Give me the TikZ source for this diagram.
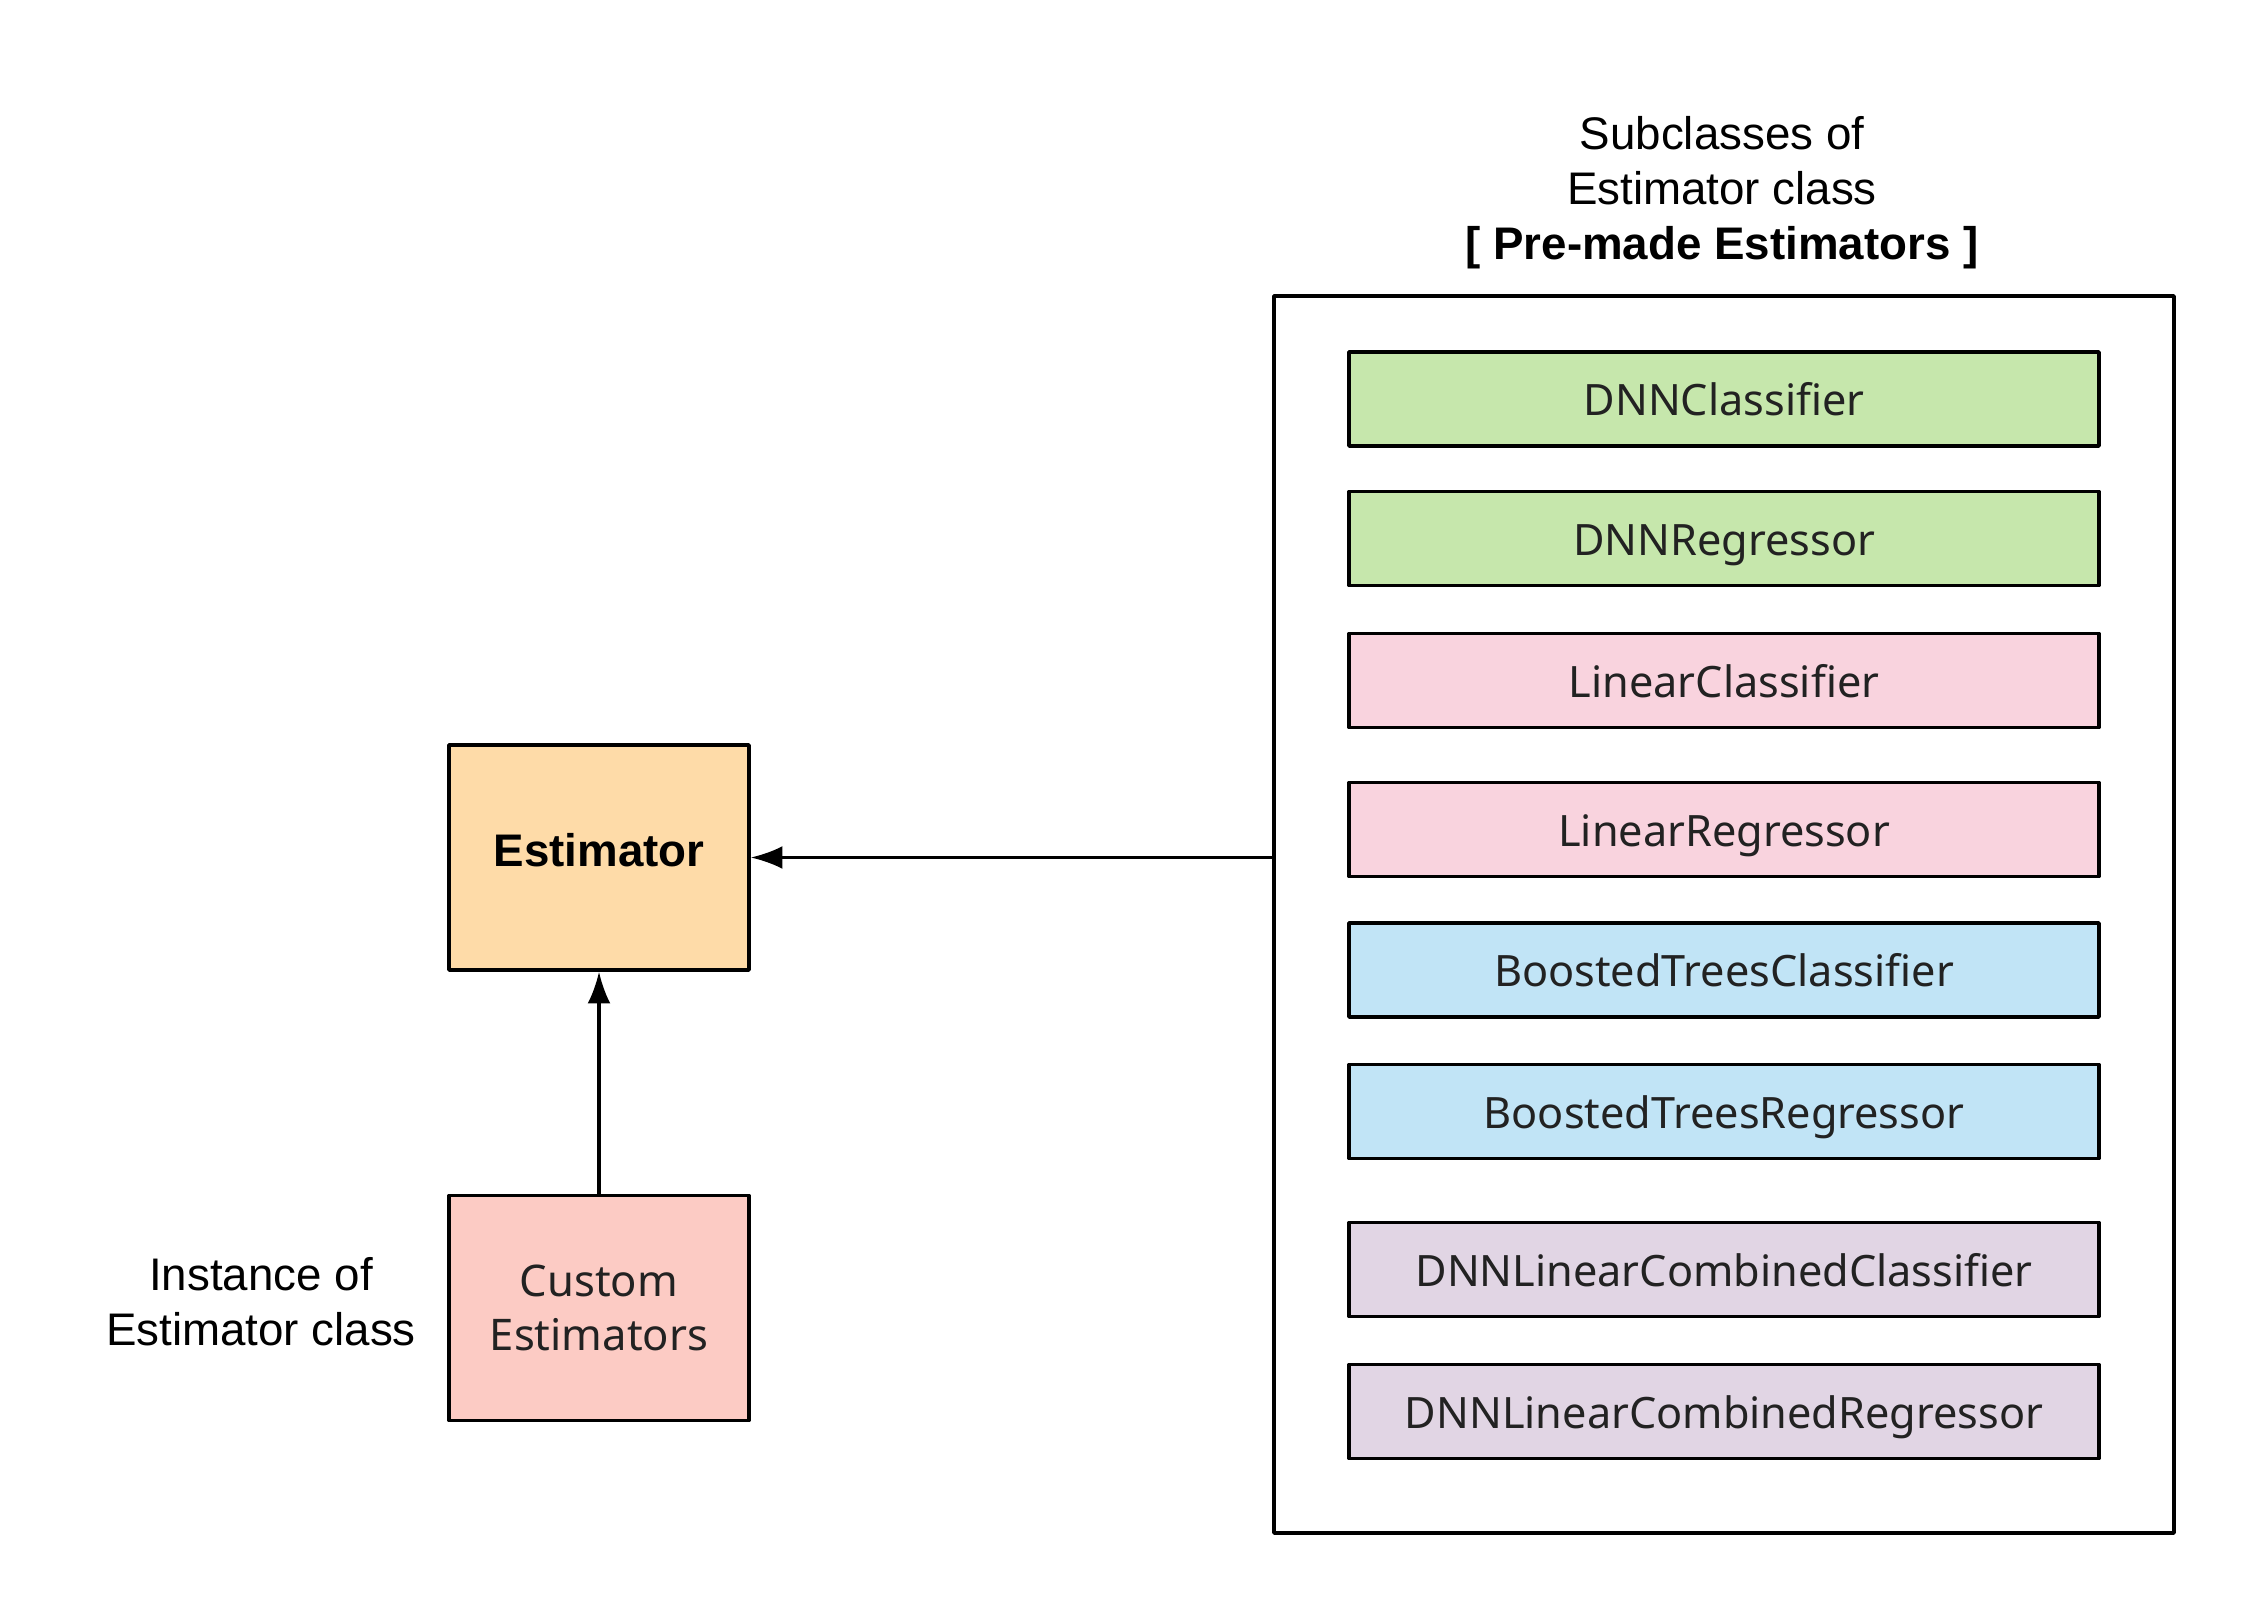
\documentclass[tikz,border=0pt]{standalone}
\usepackage{fontspec}
\setmainfont{Liberation Sans}
\newfontfamily\boxfont{Noto Sans}
\usetikzlibrary{arrows.meta}
\definecolor{dnngreen}{RGB}{198,231,172}
\definecolor{linpink}{RGB}{249,211,222}
\definecolor{treeblue}{RGB}{193,228,246}
\definecolor{combpurple}{RGB}{225,213,228}
\definecolor{estorange}{RGB}{254,219,168}
\definecolor{custpink}{RGB}{252,203,196}
\definecolor{boxtext}{RGB}{34,34,34}
\tikzset{
  subbox/.style={draw, line width=1pt, minimum width=7.5cm, minimum height=0.94cm, inner sep=0pt,
    text height=0.95em, text depth=0pt, text=boxtext, font=\boxfont\fontsize{12.3}{15}\selectfont},
  classbox/.style={draw, line width=1pt, minimum width=3cm, minimum height=2.25cm, inner sep=0pt, align=center},
  plain/.style={align=center, font=\fontsize{13}{15.6}\selectfont}
}
\begin{document}
\begin{tikzpicture}[x=1cm, y=-1cm, line join=round, >={Latex[length=9pt,width=6.5pt]}]
\useasboundingbox (0,0) rectangle (22.5,16.09);
% heading and outer frame
\node[plain] (head) at (17.22,1.93) {Subclasses of\\Estimator class\\\textbf{[ Pre-made Estimators ]}};
\node[draw, line width=1pt, minimum width=9cm, minimum height=12.37cm, inner sep=0pt] (premade) at (17.24,9.145) {};
\foreach \y/\n/\c/\t in {3.99/dnnc/dnngreen/DNNClassifier, 5.385/dnnr/dnngreen/DNNRegressor,
    6.805/linc/linpink/LinearClassifier, 8.295/linr/linpink/LinearRegressor,
    9.70/btc/treeblue/BoostedTreesClassifier, 11.115/btr/treeblue/BoostedTreesRegressor,
    12.695/combc/combpurple/DNNLinearCombinedClassifier, 14.115/combr/combpurple/DNNLinearCombinedRegressor}
  \node[subbox, fill=\c] (\n) at (17.24,\y) {\t};
% base class and custom one
\node[classbox, fill=estorange, text height=0.72em, text depth=0.18em, font=\bfseries\fontsize{13}{15.6}\selectfont] (est) at (5.99,8.575) {Estimator};
\node[classbox, fill=custpink, text=boxtext, font=\boxfont\fontsize{12.4}{15.3}\selectfont] (custom) at (5.99,13.08) {Custom\\Estimators};
\node[plain] (inst) at (2.61,13.02) {Instance of\\Estimator class};
\draw[->, line width=0.9pt] (premade.west |- est.east) -- (est.east);
\draw[->, line width=0.9pt] (custom.north) -- (est.south);
\end{tikzpicture}
\end{document}
